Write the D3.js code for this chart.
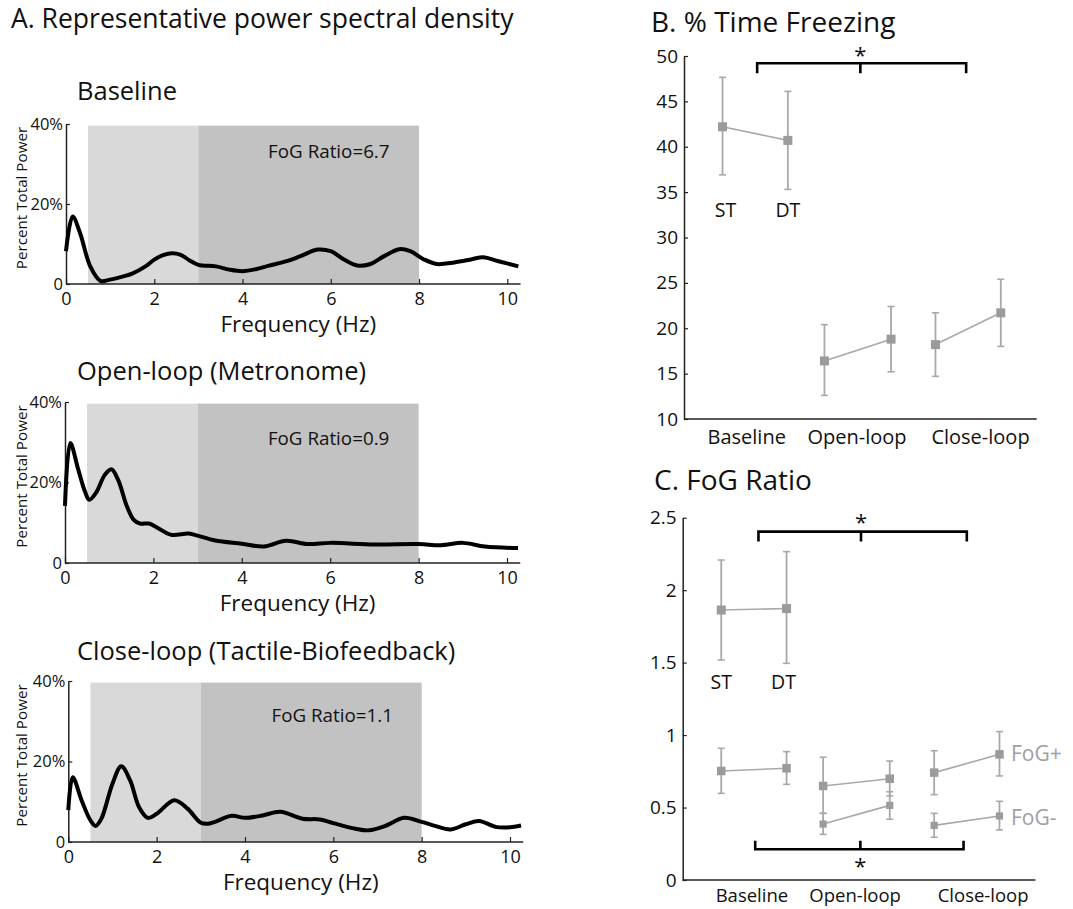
<!DOCTYPE html>
<html>
<head>
<meta charset="utf-8">
<script src="https://cdn.jsdelivr.net/npm/d3@7/dist/d3.min.js"></script>
<style>
  html, body { margin: 0; padding: 0; background: #fff; }
  text { font-family: "Open Sans", "Noto Sans", sans-serif; fill: #111; }
</style>
</head>
<body>
<svg id="chart" width="1073" height="909"></svg>
<script>
// ---------------- DATA ----------------
// Panel A: representative power spectral density (% total power vs Hz)
const baselineFreq  = [0, 0.15, 0.32, 0.55, 0.78, 1.0, 1.3, 1.5, 1.8, 2.0, 2.2, 2.4, 2.6, 2.8, 3.0, 3.4, 3.7, 4.0, 4.3, 4.6, 5.0, 5.3, 5.7, 6.0, 6.3, 6.6, 6.9, 7.2, 7.55, 7.8, 8.1, 8.4, 8.8, 9.2, 9.45, 9.8, 10.25];
const baselinePower = [8.2, 16.9, 12.7, 4.4, 0.8, 1.1, 1.9, 2.6, 4.4, 6.1, 7.2, 7.7, 7.3, 5.9, 4.8, 4.4, 3.6, 3.2, 3.7, 4.6, 5.7, 6.9, 8.6, 8.2, 6.1, 4.6, 5.0, 6.9, 8.7, 8.2, 6.2, 5.0, 5.4, 6.2, 6.7, 5.7, 4.4];

const openFreq  = [0, 0.12, 0.3, 0.45, 0.55, 0.7, 0.9, 1.05, 1.2, 1.4, 1.55, 1.7, 1.9, 2.1, 2.4, 2.8, 3.0, 3.4, 4.0, 4.5, 5.0, 5.5, 6.0, 7.0, 8.0, 8.5, 9.0, 9.5, 10.25];
const openPower = [14.2, 29.8, 23.2, 17.8, 15.7, 17.4, 21.9, 23.3, 20.7, 14.1, 10.8, 9.8, 9.8, 8.7, 7.0, 7.3, 6.8, 5.6, 4.8, 4.1, 5.5, 4.7, 5.0, 4.6, 4.7, 4.4, 5.0, 4.1, 3.7];

const closeFreq  = [0, 0.1, 0.3, 0.5, 0.62, 0.75, 1.0, 1.2, 1.4, 1.6, 1.8, 2.0, 2.4, 2.7, 3.0, 3.2, 3.7, 4.0, 4.4, 4.8, 5.3, 5.7, 6.0, 6.5, 6.8, 7.2, 7.6, 8.0, 8.3, 8.65, 9.0, 9.3, 9.7, 10.05, 10.25];
const closePower = [7.9, 16.1, 10.4, 5.4, 4.0, 5.8, 14.5, 18.8, 15.3, 8.7, 6.0, 7.0, 10.4, 8.3, 4.8, 4.6, 6.5, 6.0, 6.6, 7.5, 5.8, 5.6, 4.7, 3.3, 2.9, 4.1, 6.0, 5.0, 4.0, 3.1, 4.4, 5.2, 3.7, 3.7, 4.1];

const psdTitles = ["Baseline", "Open-loop (Metronome)", "Close-loop (Tactile-Biofeedback)"];
const fogRatios = ["6.7", "0.9", "1.1"];
const bandLow  = [0.5, 3];   // Hz, locomotor band
const bandHigh = [3, 8];     // Hz, freeze band
const psdYTicks = [0, 20, 40];
const psdXTicks = [0, 2, 4, 6, 8, 10];

// Panels B & C: conditions (ST / DT within each condition)
const categories = ["Baseline", "Open-loop", "Close-loop"];
const categoryPosB = [1.37, 3.06, 4.95];
const categoryPosC = [1.47, 3.05, 5.01];
const conditionPos = [1, 2, 2.56, 3.58, 4.26, 5.26];   // Baseline ST, DT, Open ST, DT, Close ST, DT
const taskLabels = ["ST", "DT"];

// B. % Time Freezing
const freezeMean = [42.2, 40.7, 16.4, 18.8, 18.2, 21.7];
const freezeLow  = [36.9, 35.3, 12.6, 15.2, 14.7, 18.0];
const freezeHigh = [47.65, 46.1, 20.4, 22.4, 21.7, 25.4];
const freezeTicks = [10, 15, 20, 25, 30, 35, 40, 45, 50];

// C. FoG Ratio
const ratioAllMean = [1.863, 1.873];
const ratioAllLow  = [1.518, 1.495];
const ratioAllHigh = [2.208, 2.266];

const ratioPlusMean = [0.752, 0.771, 0.649, 0.699, 0.741, 0.867];
const ratioPlusLow  = [0.598, 0.660, 0.460, 0.580, 0.589, 0.718];
const ratioPlusHigh = [0.909, 0.886, 0.847, 0.821, 0.892, 1.024];

const ratioMinusIdx  = [2, 3, 4, 5];
const ratioMinusMean = [0.386, 0.515, 0.377, 0.442];
const ratioMinusLow  = [0.315, 0.419, 0.295, 0.345];
const ratioMinusHigh = [0.460, 0.609, 0.460, 0.543];
const ratioTicks = [0, 0.5, 1, 1.5, 2, 2.5];

// ---------------- DRAW ----------------
const svg = d3.select("#chart");
svg.append("rect").attr("width", 1073).attr("height", 909).attr("fill", "#fff");

svg.append("text").attr("x", 11).attr("y", 28).attr("font-size", 26.5)
  .text("A. Representative power spectral density");

const psdData = [
  {f: baselineFreq, p: baselinePower},
  {f: openFreq, p: openPower},
  {f: closeFreq, p: closePower}
];
const psdLayout = [
  {x0: 66, x10: 507.3, y0: 284, y40: 124, titleY: 100, fogX: 4.58, fogY: 31.4},
  {x0: 65, x10: 507, y0: 563, y40: 402, titleY: 380, fogX: 4.59, fogY: 29.3},
  {x0: 68.3, x10: 510, y0: 842, y40: 681, titleY: 660, fogX: 4.6, fogY: 29.9}
];

psdData.forEach((d, i) => {
  const L = psdLayout[i];
  const x = d3.scaleLinear().domain([0, 10]).range([L.x0, L.x10]);
  const y = d3.scaleLinear().domain([0, 40]).range([L.y0, L.y40]);
  const g = svg.append("g");

  // bands
  g.append("rect").attr("x", x(bandLow[0])).attr("width", x(bandLow[1]) - x(bandLow[0]))
    .attr("y", y(39.6)).attr("height", y(0) - y(39.6)).attr("fill", "#d9d9d9");
  g.append("rect").attr("x", x(bandHigh[0])).attr("width", x(bandHigh[1]) - x(bandHigh[0]))
    .attr("y", y(39.6)).attr("height", y(0) - y(39.6)).attr("fill", "#c2c2c2");

  // axes
  const xa = d3.axisBottom(x).tickValues(psdXTicks).tickSize(-5).tickSizeOuter(0).tickPadding(8);
  const ya = d3.axisLeft(y).tickValues(psdYTicks).tickSize(-4).tickSizeOuter(0).tickPadding(3)
    .tickFormat(v => v === 0 ? "0" : v + "%");
  const gx = g.append("g").attr("transform", `translate(0,${L.y0})`).call(xa);
  gx.select(".domain").attr("d", `M${x(0)},0H${x(10.3)}`).attr("stroke", "#222").attr("stroke-width", 1.5);
  gx.selectAll(".tick line").attr("stroke", "#222").attr("stroke-width", 1.2);
  gx.selectAll(".tick text").attr("font-size", 18).attr("font-family", "Open Sans").attr("fill", "#111");
  const gy = g.append("g").attr("transform", `translate(${L.x0},0)`).call(ya);
  gy.select(".domain").attr("stroke", "#222").attr("stroke-width", 1.5);
  gy.selectAll(".tick line").attr("stroke", "#222").attr("stroke-width", 1.2);
  gy.selectAll(".tick text").attr("font-size", 16.5).attr("font-family", "Open Sans").attr("fill", "#111");

  // curve
  const pts = d.f.map((f, k) => [f, d.p[k]]);
  g.append("path").datum(pts)
    .attr("d", d3.line().x(p => x(p[0])).y(p => y(p[1])).curve(d3.curveCatmullRom.alpha(0.5)))
    .attr("fill", "none").attr("stroke", "#000").attr("stroke-width", 4).attr("stroke-linejoin", "round");

  // labels
  g.append("text").attr("x", x(L.fogX)).attr("y", y(L.fogY))
    .attr("font-size", 18.8).text("FoG Ratio=" + fogRatios[i]);
  g.append("text").attr("x", 77).attr("y", L.titleY).attr("font-size", 25.5).text(psdTitles[i]);
  g.append("text").attr("transform", `translate(27,${(L.y0 + L.y40) / 2 - 6}) rotate(-90)`)
    .attr("text-anchor", "middle").attr("font-size", 15.2).text("Percent Total Power");
  g.append("text").attr("x", (x(0) + x(10.3)) / 2 + 5).attr("y", L.y0 + 48)
    .attr("text-anchor", "middle").attr("font-size", 22.5).text("Frequency (Hz)");
});

// ---- generic dot/error plot ----
const markerColor = "#9b9b9b";
const lineColor = "#a9a9a9";

function errorSeries(g, x, y, idx, mean, low, high, size) {
  for (let k = 0; k + 1 < idx.length; k += 2) {
    g.append("line")
      .attr("x1", x(conditionPos[idx[k]])).attr("y1", y(mean[k]))
      .attr("x2", x(conditionPos[idx[k + 1]])).attr("y2", y(mean[k + 1]))
      .attr("stroke", lineColor).attr("stroke-width", 1.6);
  }
  idx.forEach((ci, k) => {
    const cx = x(conditionPos[ci]);
    g.append("line").attr("x1", cx).attr("x2", cx).attr("y1", y(low[k])).attr("y2", y(high[k]))
      .attr("stroke", lineColor).attr("stroke-width", 1.8);
    [low[k], high[k]].forEach(v => {
      g.append("line").attr("x1", cx - 3.5).attr("x2", cx + 3.5).attr("y1", y(v)).attr("y2", y(v))
        .attr("stroke", lineColor).attr("stroke-width", 1.6);
    });
    g.append("rect").attr("x", cx - size / 2).attr("y", y(mean[k]) - size / 2)
      .attr("width", size).attr("height", size).attr("fill", markerColor);
  });
}

function bracket(g, x, y, xl, xm, xr, yb, yt, starY) {
  g.append("path")
    .attr("d", `M${x(xl)},${y(yt)}V${y(yb)}H${x(xr)}V${y(yt)}M${x(xm)},${y(yb)}V${y(yt)}`)
    .attr("fill", "none").attr("stroke", "#000").attr("stroke-width", 2.6);
  g.append("text").attr("x", x(xm)).attr("y", starY).attr("text-anchor", "middle")
    .attr("font-size", 22).text("*");
}

function catAxis(g, x, y, yDom, ticks, fmt, labelY, catPos, tickFont, catFont) {
  const ya = d3.axisLeft(y).tickValues(ticks).tickSize(-4).tickSizeOuter(0).tickPadding(6).tickFormat(fmt);
  const gy = g.append("g").attr("transform", `translate(${x.range()[0]},0)`).call(ya);
  gy.select(".domain").attr("stroke", "#222").attr("stroke-width", 1.5);
  gy.selectAll(".tick line").attr("stroke", "#222").attr("stroke-width", 1.2);
  gy.selectAll(".tick text").attr("font-size", tickFont).attr("font-family", "Open Sans").attr("fill", "#111");
  g.append("line").attr("x1", x.range()[0]).attr("x2", x.range()[1])
    .attr("y1", y(yDom)).attr("y2", y(yDom)).attr("stroke", "#222").attr("stroke-width", 1.5);
  categories.forEach((c, i) => {
    g.append("text").attr("x", x(catPos[i])).attr("y", labelY).attr("text-anchor", "middle")
      .attr("font-size", catFont).text(c);
  });
}

// ---- Panel B ----
{
  const g = svg.append("g");
  const x = d3.scaleLinear().domain([0.41, 5.81]).range([684, 1036.7]);
  const y = d3.scaleLinear().domain([10, 50]).range([419, 56]);
  g.append("text").attr("x", 651).attr("y", 31.5).attr("font-size", 28).text("B. % Time Freezing");
  catAxis(g, x, y, 10, freezeTicks, d3.format("d"), 443.5, categoryPosB, 19, 20);
  errorSeries(g, x, y, [0, 1, 2, 3, 4, 5], freezeMean, freezeLow, freezeHigh, 9);
  taskLabels.forEach((t, i) => {
    g.append("text").attr("x", x(conditionPos[i]) + (i === 0 ? 3 : 0)).attr("y", y(33) + 7)
      .attr("text-anchor", "middle").attr("font-size", 19.5).text(t);
  });
  bracket(g, x, y, 1.53, 3.11, 4.73, 49.2, 48.1, 63);
}

// ---- Panel C ----
{
  const g = svg.append("g");
  const x = d3.scaleLinear().domain([0.41, 5.81]).range([682.7, 1035.4]);
  const y = d3.scaleLinear().domain([0, 2.5]).range([880, 517.7]);
  g.append("text").attr("x", 654).attr("y", 490).attr("font-size", 28).text("C. FoG Ratio");
  catAxis(g, x, y, 0, ratioTicks, d3.format(""), 902, categoryPosC, 19, 18.5);
  errorSeries(g, x, y, [0, 1], ratioAllMean, ratioAllLow, ratioAllHigh, 9);
  errorSeries(g, x, y, [0, 1, 2, 3, 4, 5], ratioPlusMean, ratioPlusLow, ratioPlusHigh, 8.5);
  errorSeries(g, x, y, ratioMinusIdx, ratioMinusMean, ratioMinusLow, ratioMinusHigh, 7.2);
  taskLabels.forEach((t, i) => {
    g.append("text").attr("x", x(conditionPos[i]) + (i === 0 ? 0 : -3)).attr("y", y(1.368) + 7)
      .attr("text-anchor", "middle").attr("font-size", 19.5).text(t);
  });
  g.append("text").attr("x", 1011).attr("y", y(0.876) + 7.5).attr("font-size", 21)
    .style("fill", "#a0a0a0").text("FoG+");
  g.append("text").attr("x", 1011).attr("y", y(0.428) + 7.5).attr("font-size", 21)
    .style("fill", "#a0a0a0").text("FoG-");
  bracket(g, x, y, 1.57, 3.14, 4.76, 2.404, 2.335, 530);
  bracket(g, x, y, 1.52, 3.13, 4.71, 0.212, 0.271, 874);
}
</script>
</body>
</html>
